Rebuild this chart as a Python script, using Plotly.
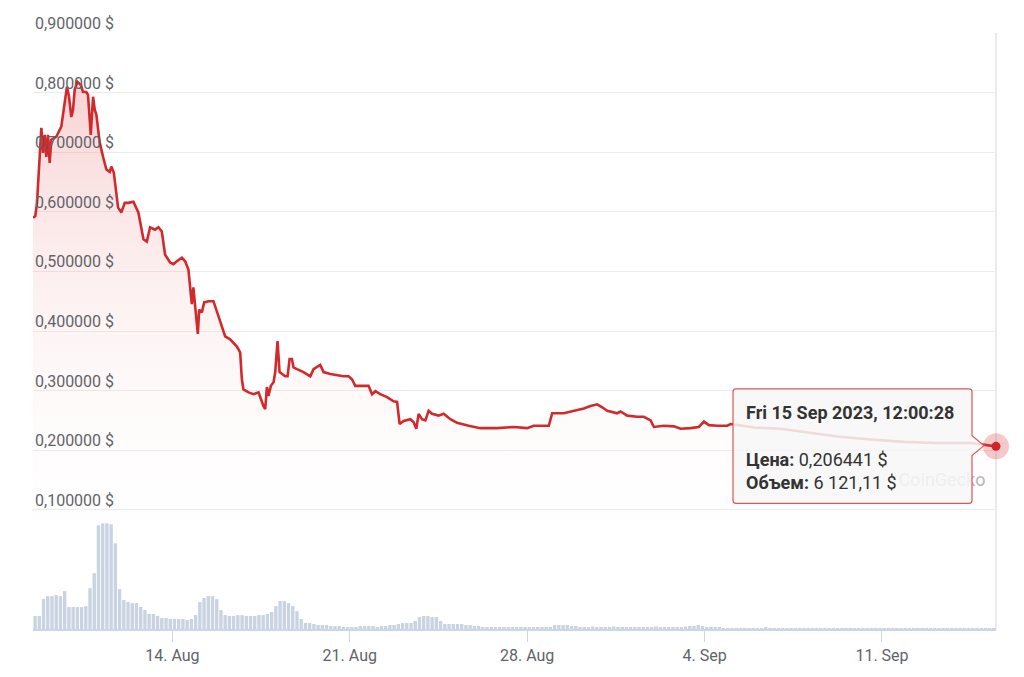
import pandas as pd
import plotly.graph_objects as go

START = pd.Timestamp("2023-08-08 12:00")

# price series: hours after START, price in USD
price_hours = [0, 2.2, 3.8, 6.2, 7.9, 9.5, 11.1, 12.6, 14.2, 15.8, 17.3, 22.1, 26.8, 30.0, 32.2,
               34.1, 36.3, 37.9, 39.5, 42.0, 45.2, 47.4, 50.5, 52.1, 54.7, 56.9, 58.5, 60.0, 63.2,
               66.4, 69.5, 72.7, 74.2, 76.5, 79.0, 80.6, 83.7, 86.9, 90.3, 95.1, 99.8, 104.6, 107.8,
               110.9, 115.6, 118.8, 122.0, 125.1, 129.9, 133.0, 136.2, 141.0, 144.1, 147.2, 150.4,
               151.9, 153.6, 156.1, 157.4, 159.9, 162.1, 166.2, 170.9, 175.6, 182.0, 186.7, 193.1,
               196.2, 197.8, 199.3, 204.1, 208.8, 213.6, 218.3, 219.9, 221.5, 223.0, 225.3, 227.8,
               229.4, 231.6, 233.5, 235.7, 238.9, 241.1, 243.0, 245.2, 246.7, 250.0, 256.2, 262.6,
               265.7, 272.0, 275.2, 281.5, 287.9, 294.1, 298.9, 302.1, 305.2, 311.6, 317.8, 321.1,
               324.2, 328.9, 335.3, 341.5, 344.8, 347.2, 351.0, 357.4, 360.5, 363.0, 365.2, 368.4,
               371.6, 374.7, 377.9, 384.2, 388.9, 395.3, 401.6, 412.6, 423.7, 439.5, 455.3, 468.0,
               474.2, 488.5, 491.7, 502.7, 512.2, 521.6, 528.0, 534.3, 539.1, 543.8, 553.3, 556.4,
               562.8, 572.2, 578.5, 584.9, 588.0, 597.5, 607.0, 613.3, 622.8, 630.6, 635.4, 640.1,
               648.1, 657.6, 660.7, 682.8, 708.1, 733.4, 761.8, 793.4, 825.0, 856.6, 888.2, 912.0]
price_usd = [0.590, 0.593, 0.615, 0.700, 0.741, 0.699, 0.729, 0.692, 0.729, 0.682, 0.721, 0.726,
             0.743, 0.783, 0.810, 0.793, 0.759, 0.771, 0.805, 0.818, 0.813, 0.801, 0.801, 0.796,
             0.729, 0.793, 0.771, 0.763, 0.716, 0.692, 0.671, 0.667, 0.676, 0.666, 0.626, 0.607,
             0.599, 0.615, 0.615, 0.617, 0.599, 0.554, 0.550, 0.574, 0.570, 0.574, 0.567, 0.528,
             0.515, 0.512, 0.517, 0.523, 0.517, 0.503, 0.445, 0.473, 0.441, 0.395, 0.436, 0.431,
             0.448, 0.450, 0.450, 0.425, 0.391, 0.386, 0.374, 0.364, 0.319, 0.302, 0.297, 0.294,
             0.297, 0.274, 0.269, 0.306, 0.291, 0.308, 0.314, 0.331, 0.383, 0.331, 0.328, 0.324,
             0.324, 0.353, 0.353, 0.339, 0.336, 0.331, 0.324, 0.336, 0.343, 0.331, 0.328, 0.326,
             0.324, 0.324, 0.319, 0.308, 0.308, 0.308, 0.294, 0.299, 0.294, 0.289, 0.282, 0.281,
             0.244, 0.249, 0.252, 0.247, 0.236, 0.261, 0.252, 0.250, 0.266, 0.261, 0.258, 0.261,
             0.252, 0.246, 0.241, 0.237, 0.237, 0.239, 0.237, 0.241, 0.241, 0.262, 0.262, 0.266,
             0.270, 0.274, 0.277, 0.272, 0.266, 0.262, 0.265, 0.258, 0.256, 0.256, 0.250, 0.239,
             0.241, 0.240, 0.236, 0.237, 0.239, 0.248, 0.242, 0.241, 0.241, 0.244, 0.238, 0.236,
             0.230, 0.223, 0.218, 0.214, 0.212, 0.212, 0.206441]

# volume per 4-hour bar, thousand USD
volume_k = [
    156, 156, 360, 396, 396, 408, 396, 456,
    264, 264, 264, 264, 276,
    492, 672, 1248, 1272, 1272, 1260, 1032, 480,
    348, 324, 312, 312, 264, 228, 180, 180, 156,
    132, 132, 120, 120, 120, 120, 108, 120,
    168, 324, 372, 396, 396, 360, 228,
    168, 156, 156, 168, 168, 156, 156, 156, 168, 168, 180,
    204, 276, 336, 336, 312, 276, 216, 120,
    72, 72, 60, 48, 48, 48, 36, 36,
    36, 24, 24, 24, 24, 36, 36, 36, 36, 24, 36, 36, 48, 48,
    60, 72, 72, 72, 96,
    144, 156, 156, 144, 144, 96,
    60, 60, 60, 60, 60, 48, 48, 36, 36,
    24, 18, 18, 18, 18, 18, 18, 18, 18, 18, 18, 18, 18, 18, 18, 24, 24,
    48, 48, 48, 48, 36, 36,
    24, 24, 24, 30, 24, 24, 24, 24, 30, 24, 24, 24, 24, 24, 24, 24, 24, 24, 30, 24, 24, 24,
    24, 24, 24, 30, 36, 36, 48, 36, 24, 24,
    18, 18, 12, 12, 12, 12, 12, 12, 12, 12, 12, 12, 18, 12, 12, 12, 12, 12, 12, 12,
    12, 12, 12, 12, 12, 12, 12, 12, 12, 12, 12, 12, 12, 12, 12, 12, 12, 12, 12, 12,
    12, 12, 12, 12, 12, 12, 12, 12, 12, 12, 12, 12, 12, 12, 12, 12, 12, 12, 12, 12,
    12, 12, 6, 6, 6, 6, 6.1,
]
VOL_HOURS_PER_BAR = 4

tick_dates = ["2023-08-14", "2023-08-21", "2023-08-28", "2023-09-04", "2023-09-11"]
tick_text = ["14. Aug", "21. Aug", "28. Aug", "4. Sep", "11. Sep"]
price_ticks = [0.1, 0.2, 0.3, 0.4, 0.5, 0.6, 0.7, 0.8, 0.9]
price_tick_text = ["0,100000 $", "0,200000 $", "0,300000 $", "0,400000 $", "0,500000 $",
                   "0,600000 $", "0,700000 $", "0,800000 $", "0,900000 $"]

tooltip_title = "Fri 15 Sep 2023, 12:00:28"
tooltip_price = "0,206441 $"
tooltip_volume = "6 121,11 $"

price_t = [START + pd.Timedelta(hours=h) for h in price_hours]
vol_t = [START + pd.Timedelta(hours=VOL_HOURS_PER_BAR * i + VOL_HOURS_PER_BAR / 2) for i in range(len(volume_k))]

W, H = 1024, 677
ML, MR, MT, MB = 33, 28, 33, 46
PW, PH = W - ML - MR, H - MT - MB


def px(x):
    return (x - ML) / PW


def py(y):
    return (H - MB - y) / PH


fig = go.Figure()

fig.add_trace(go.Bar(
    x=vol_t, y=volume_k, yaxis="y2",
    marker=dict(color="#c9d3e1", line=dict(width=0)),
    width=VOL_HOURS_PER_BAR * 3600 * 1000 * 0.8,
    hoverinfo="skip", showlegend=False,
))

fig.add_trace(go.Scatter(
    x=price_t, y=price_usd, mode="lines",
    line=dict(color="#d22a2c", width=2.6),
    fill="tozeroy",
    fillgradient=dict(type="vertical", start=0.0, stop=0.82,
                      colorscale=[[0, "rgba(255,255,255,0)"], [1, "rgba(228,70,70,0.24)"]]),
    hoverinfo="skip", showlegend=False,
))

fig.add_trace(go.Scatter(
    x=[price_t[-1]], y=[price_usd[-1]], mode="markers",
    marker=dict(size=26, color="rgba(220,60,60,0.28)"),
    cliponaxis=False, hoverinfo="skip", showlegend=False,
))
fig.add_trace(go.Scatter(
    x=[price_t[-1]], y=[price_usd[-1]], mode="markers",
    marker=dict(size=9, color="#d0232a"),
    cliponaxis=False, hoverinfo="skip", showlegend=False,
))

shapes = []
# right border (behind the traces)
shapes.append(dict(type="line", xref="paper", yref="paper", x0=1, x1=1, y0=0, y1=1,
                   line=dict(color="#dfe3ea", width=1.5), layer="below"))
# watermark (drawn as shape label so tooltip can sit above it)
shapes.append(dict(type="rect", xref="paper", yref="paper", x0=px(888), x1=px(996), y0=py(492), y1=py(468),
                   line=dict(width=0), fillcolor="rgba(0,0,0,0)", layer="above",
                   label=dict(text="CoinGecko", font=dict(family="Roboto", size=18, color="#b5b5b5"),
                              textposition="middle center")))
# tooltip box with pointer
L, R, T, B, r = 733, 972, 390, 505, 3
pts = [("M", L + r, T), ("L", R - r, T), ("Q", R, T, R, T + r), ("L", R, 437), ("L", 984, 447),
       ("L", R, 457), ("L", R, B - r), ("Q", R, B, R - r, B), ("L", L + r, B), ("Q", L, B, L, B - r),
       ("L", L, T + r), ("Q", L, T, L + r, T)]
path = ""
for p in pts:
    cmd = p[0]
    coords = p[1:]
    segs = []
    for i in range(0, len(coords), 2):
        segs.append(f"{px(coords[i]):.5f},{py(coords[i + 1]):.5f}")
    path += cmd + " " + " ".join(segs) + " "
path += "Z"
shapes.append(dict(type="path", xref="paper", yref="paper", path=path,
                   fillcolor="rgba(247,247,247,0.86)", line=dict(color="#d9585a", width=1.2),
                   layer="above"))

annotations = []
# y-axis labels drawn inside the plot, above each gridline
for v, t in zip(price_ticks, price_tick_text):
    annotations.append(dict(xref="paper", yref="y", x=0, y=v, xanchor="left", yanchor="bottom",
                            yshift=-2, showarrow=False, text=t,
                            font=dict(family="Roboto", size=16, color="#5f646b")))

annotations.append(
    dict(xref="paper", yref="paper", x=px(744), y=py(401), xanchor="left", yanchor="top",
         align="left", showarrow=False,
         text=f"<b>{tooltip_title}</b><br> <br><b>Цена:</b> {tooltip_price}<br><b>Объем:</b> {tooltip_volume}",
         font=dict(family="Roboto", size=18, color="#333333")))

fig.update_layout(
    width=W, height=H,
    margin=dict(l=ML, r=MR, t=MT, b=MB),
    paper_bgcolor="white", plot_bgcolor="white",
    separators=", ",
    font=dict(family="Roboto", size=16, color="#5f646b"),
    bargap=0.1,
    xaxis=dict(
        type="date",
        range=[price_t[0], price_t[-1]],
        tickvals=tick_dates, ticktext=tick_text,
        ticks="outside", ticklen=11, tickcolor="#ccd6eb", tickwidth=1,
        showline=True, linecolor="#ccd6eb", linewidth=1.5,
        showgrid=False, zeroline=False,
        tickfont=dict(family="Roboto", size=16, color="#5f646b"),
    ),
    yaxis=dict(
        range=[-0.1, 0.9],
        tickvals=price_ticks, showticklabels=False,
        showgrid=True, gridcolor="#ececec", gridwidth=1,
        zeroline=False, showline=False,
    ),
    yaxis2=dict(
        overlaying="y", range=[0, PH * 12], visible=False, showgrid=False,
    ),
    shapes=shapes,
    annotations=annotations,
    showlegend=False,
)

fig.write_html("out.html")
